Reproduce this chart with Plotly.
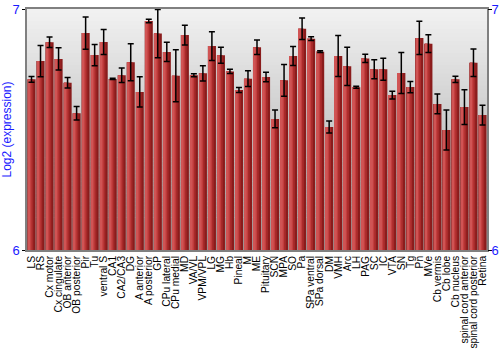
import plotly.graph_objects as go

categories = ["LS", "RS", "Cx motor", "Cx cingulate", "OB anterior", "OB posterior", "Pir", "Tu",
              "ventral S", "CA1", "CA2/CA3", "DG", "A anterior", "A posterior", "GP", "CPu lateral",
              "CPu medial", "MD", "VA/VL", "VPM/VPL", "LG", "MG", "Hb", "Pineal", "M", "ME",
              "Pituitary", "SCN", "MPA", "SO", "Pa", "SPa ventral", "SPa dorsal", "DM", "VMH", "Arc",
              "LH", "PAG", "SC", "IC", "VTA", "SN", "Tg", "Pn", "MVe", "Cb vermis", "Cb lobe",
              "Cb nucleus", "spinal cord anterior", "spinal cord posterior", "Retina"]

values = [6.708, 6.784, 6.862, 6.793, 6.694, 6.567, 6.900, 6.809,
          6.863, 6.710, 6.725, 6.779, 6.656, 6.950, 6.898, 6.822,
          6.723, 6.892, 6.725, 6.733, 6.846, 6.808, 6.741, 6.664, 6.711, 6.841,
          6.718, 6.544, 6.704, 6.805, 6.918, 6.877, 6.823, 6.510, 6.805, 6.762,
          6.675, 6.795, 6.750, 6.750, 6.643, 6.734, 6.676, 6.880, 6.856, 6.606, 6.498,
          6.708, 6.593, 6.777, 6.560]

errors = [0.012, 0.065, 0.022, 0.046, 0.022, 0.028, 0.067, 0.044,
          0.052, 0.003, 0.030, 0.077, 0.063, 0.007, 0.100, 0.040,
          0.108, 0.041, 0.006, 0.032, 0.060, 0.033, 0.009, 0.010, 0.033, 0.030,
          0.020, 0.037, 0.066, 0.039, 0.045, 0.008, 0.004, 0.025, 0.085, 0.079,
          0.004, 0.017, 0.039, 0.046, 0.016, 0.085, 0.023, 0.069, 0.037, 0.041, 0.083,
          0.013, 0.072, 0.057, 0.041]

y_ticks = [6, 7]
y_range = [6, 7]
y_title = "Log2 (expression)"

FONT = "Arial, Liberation Sans, sans-serif"
BLUE = "#1a1aff"

fig = go.Figure()

# cylinder-like bar shading via overlaid bars
layers = [(-0.45, 0.90, "#8a1c1c"),
          (-0.42, 0.62, "#a82a2a"),
          (-0.40, 0.40, "#c23e3e"),
          (-0.37, 0.22, "#d05454")]
for off, w, col in layers:
    fig.add_trace(go.Bar(x=categories, y=values, offset=off, width=w,
                         marker=dict(color=col, line=dict(width=0)),
                         hoverinfo="skip", showlegend=False))

fig.add_trace(go.Scatter(x=categories, y=values, mode="markers",
                         marker=dict(size=1, opacity=0),
                         error_y=dict(type="data", array=errors, visible=True,
                                      color="black", thickness=1.5, width=3),
                         showlegend=False))

# vertical gray gradient background
n = 60
top_c, bot_c = 242, 160
for i in range(n):
    t = (i + 0.5) / n
    c = int(round(bot_c + (top_c - bot_c) * t))
    fig.add_shape(type="rect", xref="paper", yref="paper",
                  x0=0, x1=1, y0=i / n, y1=(i + 1) / n + 0.002,
                  fillcolor=f"rgb({c},{c},{c})", line=dict(width=0), layer="below")

fig.update_layout(
    width=500, height=350,
    margin=dict(l=27, r=13, t=9, b=100, autoexpand=False),
    paper_bgcolor="white", plot_bgcolor="rgba(0,0,0,0)",
    barmode="overlay", bargap=0.1,
    font=dict(family=FONT, color="black"),
    xaxis=dict(type="category", tickangle=-90, tickfont=dict(size=10.3, color="black"),
               tickmode="array", tickvals=categories, ticktext=categories, automargin=False,
               showgrid=False, ticks="", showline=True, linecolor="#808080",
               linewidth=1.5, mirror=True, range=[-0.5, len(categories) - 0.5]),
    yaxis=dict(range=y_range, tickvals=y_ticks, ticks="outside", ticklen=3, automargin=False,
               tickcolor="black", tickfont=dict(size=13, color=BLUE),
               showgrid=False, zeroline=False, showline=True, linecolor="#808080",
               linewidth=1.5, mirror=True,
               title=dict(text=y_title, font=dict(size=12, color=BLUE), standoff=2)),
    yaxis2=dict(range=y_range, tickvals=y_ticks, overlaying="y", side="right", automargin=False,
                ticks="outside", ticklen=4, tickcolor="black", ticklabelstandoff=-3,
                tickfont=dict(size=13, color=BLUE), showgrid=False, zeroline=False),
)
fig.add_trace(go.Scatter(x=[categories[0]], y=[6.5], yaxis="y2", mode="markers",
                         marker=dict(opacity=0), hoverinfo="skip", showlegend=False))

fig.write_html("out.html")
